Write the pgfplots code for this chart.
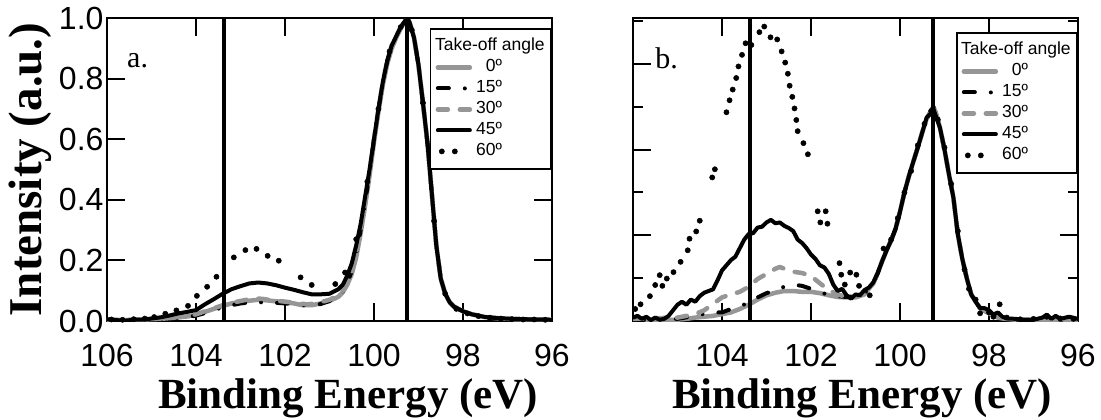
\documentclass[border=0pt]{standalone}
\usepackage{pgfplots}
\pgfplotsset{compat=1.18}
\usepackage{fontspec}
\setmainfont{Liberation Serif}
\newfontfamily\arial{Liberation Sans}
\definecolor{lgray}{RGB}{150,150,150}
\pgfplotsset{
  xps/.style={
    scale only axis, width=445pt, height=303pt,
    x dir=reverse, xmin=96, xmax=106,
    tick align=inside, major tick length=18pt, minor tick length=10pt,
    tick style={black, line width=2pt},
    axis line style={line width=2.5pt},
    xticklabel style={font=\arial\fontsize{32}{32}\selectfont, yshift=-20pt},
    yticklabel style={font=\arial\fontsize{32}{32}\selectfont},
    xlabel style={font=\bfseries\fontsize{43}{43}\selectfont, anchor=base},
    ylabel style={font=\bfseries\fontsize{47}{47}\selectfont, anchor=center},
    legend image code/.code={\draw[#1] (2pt,0pt) -- (34pt,0pt);},
    legend cell align=left,
    legend style={anchor=north east, draw=black, line width=1.8pt, fill=white,
      font=\arial\fontsize{17.5}{17.5}\selectfont, inner xsep=5pt, inner ysep=7pt,
      row sep=0pt, column sep=4pt,
      nodes={inner sep=1pt, text height=13.5pt, text depth=5.5pt}},
  },
  s0/.style={lgray, line width=4.5pt, line cap=round, line join=round},
  s15/.style={black, line width=4pt, line cap=round, line join=round, dash pattern=on 11pt off 16pt on 0pt off 16pt},
  s30/.style={lgray, line width=4.5pt, line cap=round, line join=round, dash pattern=on 10pt off 12pt},
  s45/.style={black, line width=4pt, line cap=round, line join=round},
  s60/.style={black, only marks, mark=*, mark size=2.6pt, line width=0.5pt,
    legend image code/.code={\draw[##1] plot coordinates {(6pt,0pt) (19pt,0pt)};}},
  vl/.style={black, line width=4pt, forget plot},
}
\begin{document}
\begin{tikzpicture}
\path[use as bounding box] (0,0) rectangle (1101pt,-420pt);
% ---------------- panel a ----------------
\begin{axis}[xps, at={(107pt,-321pt)}, anchor=south west,
  ymin=0, ymax=1,
  xtick={96,98,100,102,104,106}, xticklabels={96,98,100,102,104,106},
  ytick={0,0.2,0.4,0.6,0.8,1.0}, yticklabels={0.0,0.2,0.4,0.6,0.8,1.0},
  xlabel={Binding Energy (eV)},
  xlabel style={at={(axis description cs:0.542,-0.29)}},
  ylabel={Intensity (a.u.)},
  ylabel style={at={(axis description cs:-0.172,0.5)}},
  legend style={at={(1,1)}, yshift=-10pt},
]
\addlegendimage{empty legend}
\addlegendentry{\makebox[68pt][l]{\hspace*{-42pt}Take-off angle}}
\addplot[s0] table {
106.0 0.004
105.6 0.003
105.2 0.005
104.8 0.007
104.4 0.012
104.2 0.015
104.0 0.020
103.8 0.030
103.6 0.040
103.4 0.050
103.2 0.058
103.0 0.063
102.8 0.067
102.6 0.070
102.4 0.068
102.2 0.065
102.0 0.062
101.8 0.058
101.6 0.052
101.4 0.052
101.2 0.058
101.0 0.066
100.8 0.080
100.7 0.095
100.6 0.120
100.5 0.155
100.4 0.21
100.3 0.29
100.2 0.38
100.1 0.48
100.0 0.59
99.9 0.69
99.8 0.78
99.7 0.85
99.6 0.90
99.5 0.935
99.4 0.965
99.3 0.99
99.25 1.0
99.2 0.985
99.1 0.935
99.0 0.845
98.9 0.72
98.8 0.59
98.7 0.42
98.6 0.25
98.5 0.14
98.4 0.09
98.3 0.062
98.2 0.047
98.0 0.032
97.8 0.022
97.5 0.013
97.2 0.009
96.8 0.006
96.4 0.005
96.0 0.004
};
\addlegendentry{\makebox[25pt][r]{0º}}
\addplot[s15] table {
106.0 0.004
105.6 0.002
105.2 0.004
104.8 0.006
104.4 0.010
104.2 0.013
104.0 0.018
103.8 0.026
103.6 0.036
103.4 0.045
103.2 0.052
103.0 0.058
102.8 0.061
102.6 0.062
102.4 0.061
102.2 0.060
102.0 0.058
101.8 0.056
101.6 0.052
101.4 0.050
101.2 0.056
101.0 0.066
100.8 0.082
100.7 0.098
100.6 0.125
100.5 0.165
100.4 0.22
100.3 0.30
100.2 0.39
100.1 0.49
100.0 0.60
99.9 0.70
99.8 0.79
99.7 0.86
99.6 0.91
99.5 0.94
99.4 0.97
99.3 0.99
99.25 1.0
99.2 0.985
99.1 0.935
99.0 0.845
98.9 0.72
98.8 0.59
98.7 0.42
98.6 0.25
98.5 0.14
98.4 0.09
98.3 0.062
98.2 0.047
98.0 0.032
97.8 0.022
97.5 0.013
97.2 0.009
96.8 0.006
96.4 0.005
96.0 0.004
};
\addlegendentry{\makebox[25pt][r]{15º}}
\addplot[s30] table {
106.0 0.004
105.6 0.003
105.2 0.005
104.8 0.008
104.4 0.013
104.2 0.016
104.0 0.022
103.8 0.032
103.6 0.042
103.4 0.052
103.2 0.060
103.0 0.066
102.8 0.072
102.7 0.075
102.5 0.073
102.3 0.068
102.0 0.064
101.8 0.060
101.5 0.055
101.3 0.058
101.0 0.070
100.8 0.085
100.7 0.100
100.6 0.125
100.5 0.160
100.4 0.22
100.3 0.30
100.2 0.39
100.1 0.49
100.0 0.60
99.9 0.70
99.8 0.79
99.7 0.86
99.6 0.91
99.5 0.94
99.4 0.97
99.3 0.99
99.25 1.0
99.2 0.985
99.1 0.935
99.0 0.845
98.9 0.72
98.8 0.59
98.7 0.42
98.6 0.25
98.5 0.14
98.4 0.09
98.3 0.062
98.2 0.047
98.0 0.032
97.8 0.022
97.5 0.013
97.2 0.009
96.8 0.006
96.4 0.005
96.0 0.004
};
\addlegendentry{\makebox[25pt][r]{30º}}
\addplot[s45] table {
106.0 0.006
105.8 0.003
105.6 0.001
105.4 0.004
105.2 0.005
105.0 0.008
104.8 0.012
104.6 0.018
104.4 0.025
104.2 0.030
104.0 0.036
103.8 0.055
103.6 0.072
103.4 0.090
103.2 0.105
103.0 0.115
102.8 0.124
102.6 0.127
102.4 0.124
102.2 0.118
102.0 0.110
101.8 0.103
101.6 0.095
101.4 0.088
101.2 0.088
101.0 0.090
100.8 0.105
100.7 0.120
100.6 0.150
100.5 0.19
100.4 0.25
100.3 0.32
100.2 0.41
100.1 0.50
100.0 0.60
99.9 0.70
99.8 0.79
99.7 0.86
99.6 0.91
99.5 0.94
99.4 0.97
99.3 0.99
99.25 1.0
99.2 0.985
99.1 0.935
99.0 0.845
98.9 0.72
98.8 0.59
98.7 0.42
98.6 0.25
98.5 0.14
98.4 0.09
98.3 0.062
98.2 0.047
98.0 0.032
97.8 0.022
97.5 0.013
97.2 0.009
96.8 0.007
96.4 0.005
96.0 0.004
};
\addlegendentry{\makebox[25pt][r]{45º}}
\addplot[s60] table {
105.9 0.005
105.65 0.004
105.4 0.006
105.15 0.008
104.94 0.013
104.69 0.024
104.44 0.035
104.18 0.050
103.98 0.083
103.75 0.113
103.54 0.146
103.15 0.210
102.89 0.234
102.64 0.238
102.39 0.215
102.14 0.199
101.65 0.144
101.40 0.119
100.87 0.122
100.65 0.160
100.40 0.27
100.15 0.46
99.9 0.70
99.65 0.89
99.4 0.97
99.15 0.96
98.9 0.72
98.65 0.33
98.4 0.09
98.15 0.040
97.9 0.025
97.65 0.016
97.4 0.011
97.15 0.008
96.9 0.006
96.65 0.005
96.4 0.005
96.15 0.004
};
\addlegendentry{\makebox[25pt][r]{60º}}
\addplot[vl] coordinates {(103.37,0) (103.37,1)};
\addplot[vl] coordinates {(99.25,0) (99.25,1)};
\node[anchor=base west, font=\fontsize{30}{30}\selectfont, inner sep=0pt] at (axis cs:105.55,0.835) {a.};
\end{axis}
% ---------------- panel b ----------------
\begin{axis}[xps, at={(633pt,-321pt)}, anchor=south west,
  ymin=0, ymax=7.07,
  xtick={96,98,100,102,104,106}, xticklabels={96,98,100,102,104,{}},
  ytick={2,4,6}, yticklabels={}, minor ytick={1,3,5,7},
  xlabel={Binding Energy (eV)},
  xlabel style={at={(axis description cs:0.515,-0.29)}},
  legend style={at={(1,1)}, yshift=-14pt},
]
\addlegendimage{empty legend}
\addlegendentry{\makebox[68pt][l]{\hspace*{-42pt}Take-off angle}}
\addplot[s0] table {
106.0 0.02
105.5 0.02
105.0 0.03
104.8 0.05
104.6 0.08
104.4 0.10
104.2 0.12
104.0 0.16
103.8 0.20
103.6 0.28
103.4 0.38
103.2 0.50
103.0 0.60
102.8 0.66
102.6 0.70
102.4 0.70
102.2 0.68
102.0 0.68
101.8 0.65
101.6 0.60
101.4 0.56
101.2 0.55
101.0 0.55
100.8 0.62
100.7 0.75
100.6 0.88
100.5 1.12
100.4 1.40
100.3 1.65
100.2 1.88
100.1 2.15
100.0 2.55
99.9 3.00
99.8 3.38
99.7 3.72
99.6 4.05
99.5 4.40
99.4 4.72
99.3 4.90
99.25 5.00
99.2 4.88
99.1 4.50
99.0 4.00
98.9 3.42
98.8 2.88
98.7 2.02
98.6 1.45
98.5 1.00
98.4 0.62
98.3 0.45
98.2 0.30
98.1 0.24
98.0 0.18
97.9 0.12
97.8 0.08
97.6 0.05
97.4 0.03
97.0 0.03
96.5 0.03
96.0 0.03
};
\addlegendentry{\makebox[25pt][r]{0º}}
\addplot[s15] table {
106.0 0.02
105.5 0.03
105.0 0.05
104.6 0.12
104.4 0.17
104.2 0.20
104.0 0.20
103.8 0.28
103.6 0.35
103.4 0.42
103.2 0.55
103.0 0.65
102.8 0.72
102.6 0.80
102.4 0.85
102.2 0.82
102.0 0.75
101.8 0.68
101.6 0.60
101.4 0.58
101.2 0.56
101.0 0.58
100.8 0.65
100.7 0.75
100.6 0.88
100.5 1.12
100.4 1.40
100.3 1.65
100.2 1.88
100.1 2.15
100.0 2.55
99.9 3.00
99.8 3.38
99.7 3.72
99.6 4.05
99.5 4.40
99.4 4.72
99.3 4.90
99.25 5.00
99.2 4.88
99.1 4.50
99.0 4.00
98.9 3.42
98.8 2.88
98.7 2.02
98.6 1.45
98.5 1.00
98.4 0.62
98.3 0.45
98.2 0.30
98.1 0.24
98.0 0.18
97.9 0.12
97.8 0.08
97.6 0.05
97.4 0.03
97.0 0.03
96.5 0.03
96.0 0.03
};
\addlegendentry{\makebox[25pt][r]{15º}}
\addplot[s30] table {
106.0 0.05
105.0 0.08
104.8 0.12
104.6 0.16
104.4 0.25
104.2 0.40
104.0 0.55
103.8 0.62
103.6 0.68
103.4 0.80
103.2 0.98
103.0 1.10
102.8 1.22
102.7 1.26
102.6 1.22
102.4 1.15
102.2 1.12
102.0 1.05
101.8 0.88
101.6 0.72
101.4 0.62
101.2 0.56
101.0 0.58
100.8 0.65
100.7 0.75
100.6 0.88
100.5 1.12
100.4 1.40
100.3 1.65
100.2 1.88
100.1 2.15
100.0 2.55
99.9 3.00
99.8 3.38
99.7 3.72
99.6 4.05
99.5 4.40
99.4 4.72
99.3 4.90
99.25 5.00
99.2 4.88
99.1 4.50
99.0 4.00
98.9 3.42
98.8 2.88
98.7 2.02
98.6 1.45
98.5 1.00
98.4 0.62
98.3 0.45
98.2 0.30
98.1 0.24
98.0 0.18
97.9 0.12
97.8 0.08
97.6 0.05
97.4 0.03
97.0 0.03
96.5 0.03
96.0 0.03
};
\addlegendentry{\makebox[25pt][r]{30º}}
\addplot[s45] table {
106.0 0.08
105.9 0.12
105.8 0.05
105.7 0.10
105.6 0.02
105.5 0.08
105.4 0.03
105.3 0.05
105.2 0.12
105.1 0.25
105.0 0.38
104.9 0.45
104.8 0.38
104.7 0.50
104.6 0.45
104.5 0.58
104.4 0.66
104.3 0.70
104.2 0.74
104.1 0.95
104.0 1.18
103.9 1.30
103.8 1.42
103.7 1.50
103.6 1.70
103.5 1.90
103.4 2.03
103.3 2.05
103.2 2.18
103.1 2.20
103.0 2.30
102.9 2.36
102.8 2.28
102.7 2.30
102.6 2.22
102.5 2.17
102.4 2.10
102.3 1.90
102.2 1.82
102.1 1.70
102.0 1.55
101.9 1.45
101.8 1.30
101.7 1.25
101.6 1.10
101.5 0.85
101.4 0.70
101.3 0.75
101.2 0.60
101.1 0.52
101.0 0.62
100.9 0.60
100.8 0.72
100.7 0.78
100.6 0.90
100.5 1.12
100.4 1.40
100.3 1.65
100.2 1.88
100.1 2.15
100.0 2.55
99.9 3.00
99.8 3.38
99.7 3.72
99.6 4.05
99.5 4.40
99.4 4.75
99.3 4.85
99.25 4.95
99.2 4.80
99.1 4.50
99.0 4.00
98.9 3.42
98.8 2.88
98.7 2.02
98.6 1.45
98.5 1.00
98.4 0.62
98.3 0.45
98.2 0.30
98.1 0.30
98.0 0.25
97.9 0.15
97.8 0.20
97.7 0.10
97.6 0.06
97.4 0.05
97.2 0.02
97.0 0.03
96.8 0.08
96.7 0.15
96.6 0.05
96.5 0.12
96.4 0.05
96.2 0.10
96.0 0.05
};
\addlegendentry{\makebox[25pt][r]{45º}}
\addplot[s60] table {
105.95 0.28
105.83 0.39
105.62 0.58
105.50 0.84
105.40 1.07
105.34 0.82
105.24 0.99
105.09 1.14
104.93 1.38
104.77 1.65
104.73 1.92
104.58 2.09
104.50 2.34
104.22 3.35
104.16 3.54
103.90 4.87
103.83 5.15
103.76 5.40
103.68 5.67
103.63 5.94
103.55 6.21
103.47 6.48
103.34 6.44
103.16 6.74
103.05 6.87
102.91 6.62
102.76 6.57
102.66 6.29
102.58 6.03
102.52 5.77
102.48 5.49
102.42 5.23
102.37 4.96
102.33 4.69
102.30 4.43
102.17 4.15
102.07 3.89
101.85 2.56
101.67 2.56
101.79 2.30
101.63 2.27
101.36 1.35
101.32 1.08
101.12 1.13
100.98 1.08
101.24 0.85
100.92 0.82
100.68 0.60
100.37 1.69
100.20 1.90
100.05 2.40
99.90 3.00
99.75 3.50
99.60 4.10
99.45 4.60
99.30 4.90
99.15 4.70
99.00 4.05
98.85 3.20
98.70 2.10
98.55 1.20
98.45 0.75
98.30 0.50
98.20 0.18
98.00 0.20
97.90 0.10
97.76 0.39
97.60 0.08
97.30 0.04
97.00 0.05
96.70 0.10
96.40 0.06
96.10 0.05
};
\addlegendentry{\makebox[25pt][r]{60º}}
\addplot[vl] coordinates {(103.37,0) (103.37,7.07)};
\addplot[vl] coordinates {(99.25,0) (99.25,7.07)};
\node[anchor=base west, font=\fontsize{30}{30}\selectfont, inner sep=0pt] at (axis cs:105.5,5.9) {b.};
\end{axis}
\end{tikzpicture}
\end{document}
